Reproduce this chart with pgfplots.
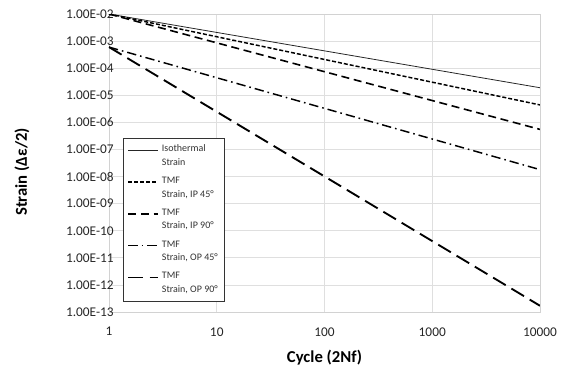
\documentclass[border=0pt]{standalone}
\usepackage{pgfplots}
\pgfplotsset{compat=1.18}
\usepackage{fontspec}
\setmainfont{Carlito}
\begin{document}
\begin{tikzpicture}
\path[use as bounding box] (-81.75pt,-44.25pt) rectangle (345pt,234pt);
\begin{axis}[
  at={(0,0)}, anchor=south west,
  scale only axis, width=323.25pt, height=223.5pt,
  xmode=log, ymode=log,
  xmin=1, xmax=10000, ymin=1e-13, ymax=1e-2,
  xtick={1,10,100,1000,10000},
  xticklabels={1,10,100,1000,10000},
  ytick={1e-13,1e-12,1e-11,1e-10,1e-9,1e-8,1e-7,1e-6,1e-5,1e-4,1e-3,1e-2},
  yticklabels={1.00E-13,1.00E-12,1.00E-11,1.00E-10,1.00E-09,1.00E-08,1.00E-07,1.00E-06,1.00E-05,1.00E-04,1.00E-03,1.00E-02},
  minor tick num=0, log basis x=10, log basis y=10,
  xminorticks=false, yminorticks=false,
  major tick length=0pt,
  grid=major, major grid style={gray!25, line width=0.6pt},
  axis line style={gray!35, line width=0.6pt},
  tick label style={font=\fontsize{10}{12}\selectfont, text=black!85},
  xticklabel style={yshift=-8pt},
  yticklabel style={xshift=7pt},
  xlabel={\textbf{Cycle (2Nf)}},
  ylabel={\textbf{Strain (Δε/2)}},
  label style={font=\fontsize{12.5}{14}\selectfont},
  xlabel style={at={(axis description cs:0.5,0)}, anchor=center, yshift=-34.5pt},
  ylabel style={at={(axis description cs:-0.202,0.47)}, anchor=center},
  legend style={at={(0.0325,0.584)}, anchor=north west, draw=black!80, line width=0.6pt,
    font=\fontsize{7.5}{10}\selectfont, cells={align=left, anchor=west},
    row sep=3.5pt, inner xsep=3pt, inner ysep=3pt, text=black!80},
  legend image code/.code={\draw[#1] (0pt,4.5pt) -- (22.5pt,4.5pt);},
]
\addplot[black!85, line width=0.6pt] coordinates {(1,1e-2) (10000,1.9e-5)};
\addlegendentry{Isothermal\\Strain}
\addplot[black, line width=1.1pt, dash pattern=on 3pt off 1.5pt] coordinates {(1,1e-2) (10000,4.4e-6)};
\addlegendentry{TMF\\Strain, IP 45°}
\addplot[black, line width=1.2pt, dash pattern=on 6pt off 3.5pt] coordinates {(1,1e-2) (10000,5.5e-7)};
\addlegendentry{TMF\\Strain, IP 90°}
\addplot[black, line width=1.1pt, dash pattern=on 7pt off 3pt on 1.2pt off 3pt] coordinates {(1,6e-4) (10000,1.8e-8)};
\addlegendentry{TMF\\Strain, OP 45°}
\addplot[black, line width=1.4pt, dash pattern=on 11pt off 5pt] coordinates {(1,6e-4) (10000,1.7e-13)};
\addlegendentry{TMF\\Strain, OP 90°}
\end{axis}
\end{tikzpicture}
\end{document}
